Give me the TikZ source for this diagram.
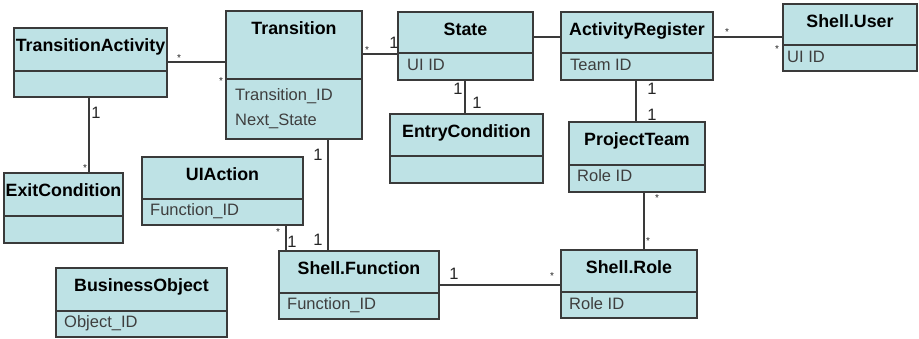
\documentclass[tikz,border=0pt]{standalone}
\usepackage{fontspec}
\setmainfont{Liberation Sans}
\definecolor{classfill}{RGB}{190,226,229}
\definecolor{classline}{RGB}{58,58,58}
\definecolor{attrtext}{RGB}{62,62,62}

\begin{document}
\begin{tikzpicture}[x=1pt,y=-1pt,
  classbox/.style={draw=classline,fill=classfill,line width=1.6pt,anchor=north west,inner sep=0pt,outer sep=0pt},
  classname/.style={anchor=base,font=\fontsize{17.8}{20}\selectfont\bfseries},
  attr/.style={anchor=base west,inner sep=0pt,text=attrtext,font=\fontsize{16.5}{19}\selectfont},
  divider/.style={draw=classline,line width=1.4pt},
  assoc/.style={draw=classline,line width=1.6pt},
  one/.style={inner sep=0pt,text=black!85,font=\fontsize{16.5}{19}\selectfont},
  many/.style={inner sep=0pt,text=black!85,font=\fontsize{10}{12}\selectfont}]
\useasboundingbox (0,0) rectangle (919,339);
% classes
\node[classbox,minimum width=153pt,minimum height=69pt] (ta) at (14,28) {};
\draw[divider] (ta.west |- 0,71) -- (ta.east |- 0,71);
\node[classname] (ta-name) at ([yshift=-24pt]ta.north) {TransitionActivity};
\node[classbox,minimum width=136pt,minimum height=128pt] (tr) at (226,11) {};
\draw[divider] (tr.west |- 0,79) -- (tr.east |- 0,79);
\node[classname] (tr-name) at ([yshift=-24pt]tr.north) {Transition};
\node[attr] (tr-id) at (235,101) {Transition\_ID};
\node[attr] (tr-next) at (235,126) {Next\_State};
\node[classbox,minimum width=135pt,minimum height=68pt] (st) at (398,12) {};
\draw[divider] (st.west |- 0,53) -- (st.east |- 0,53);
\node[classname] (st-name) at ([yshift=-24pt]st.north) {State};
\node[attr] (st-ui) at (407,71) {UI ID};
\node[classbox,minimum width=152pt,minimum height=68pt] (ar) at (561,12) {};
\draw[divider] (ar.west |- 0,53) -- (ar.east |- 0,53);
\node[classname] (ar-name) at ([yshift=-24pt]ar.north) {ActivityRegister};
\node[attr] (ar-team) at (570,71) {Team ID};
\node[classbox,minimum width=134pt,minimum height=67pt] (su) at (783,4) {};
\draw[divider] (su.west |- 0,45) -- (su.east |- 0,45);
\node[classname] (su-name) at ([yshift=-24pt]su.north) {Shell.User};
\node[attr] (su-ui) at (787,63) {UI ID};
\node[classbox,minimum width=153pt,minimum height=69pt] (ec) at (390,114) {};
\draw[divider] (ec.west |- 0,156) -- (ec.east |- 0,156);
\node[classname] (ec-name) at ([yshift=-24pt]ec.north) {EntryCondition};
\node[classbox,minimum width=136pt,minimum height=70pt] (pt) at (569,122) {};
\draw[divider] (pt.west |- 0,165) -- (pt.east |- 0,165);
\node[classname] (pt-name) at ([yshift=-24pt]pt.north) {ProjectTeam};
\node[attr] (pt-role) at (577,182) {Role ID};
\node[classbox,minimum width=161pt,minimum height=68pt] (ua) at (142,157) {};
\draw[divider] (ua.west |- 0,199) -- (ua.east |- 0,199);
\node[classname] (ua-name) at ([yshift=-24pt]ua.north) {UIAction};
\node[attr] (ua-fn) at (150,216) {Function\_ID};
\node[classbox,minimum width=119pt,minimum height=70pt] (xc) at (4,173) {};
\draw[divider] (xc.west |- 0,216) -- (xc.east |- 0,216);
\node[classname] (xc-name) at ([yshift=-24pt]xc.north) {ExitCondition};
\node[classbox,minimum width=171pt,minimum height=69pt] (bo) at (56,268) {};
\draw[divider] (bo.west |- 0,311) -- (bo.east |- 0,311);
\node[classname] (bo-name) at ([yshift=-24pt]bo.north) {BusinessObject};
\node[attr] (bo-id) at (64,327) {Object\_ID};
\node[classbox,minimum width=160pt,minimum height=68pt] (sf) at (279,251) {};
\draw[divider] (sf.west |- 0,293) -- (sf.east |- 0,293);
\node[classname] (sf-name) at ([yshift=-24pt]sf.north) {Shell.Function};
\node[attr] (sf-fn) at (287,309) {Function\_ID};
\node[classbox,minimum width=136pt,minimum height=68pt] (sr) at (561,250) {};
\draw[divider] (sr.west |- 0,292) -- (sr.east |- 0,292);
\node[classname] (sr-name) at ([yshift=-24pt]sr.north) {Shell.Role};
\node[attr] (sr-role) at (569,309) {Role ID};
% associations
\draw[assoc] (ta.east |- 0,62) -- (tr.west |- 0,62);
\draw[assoc] (tr.east |- 0,54) -- (st.west |- 0,54);
\draw[assoc] (st.east |- 0,37) -- (ar.west |- 0,37);
\draw[assoc] (ar.east |- 0,37) -- (su.west |- 0,37);
\draw[assoc] (st.south -| 465,0) -- (ec.north -| 465,0);
\draw[assoc] (ar.south -| 636,0) -- (pt.north -| 636,0);
\draw[assoc] (pt.south -| 644,0) -- (sr.north -| 644,0);
\draw[assoc] (sf.east |- 0,285) -- (sr.west |- 0,285);
\draw[assoc] (tr.south -| 328,0) -- (sf.north -| 328,0);
\draw[assoc] (ua.south -| 286,0) -- (sf.north -| 286,0);
\draw[assoc] (ta.south -| 89,0) -- (xc.north -| 89,0);
% multiplicities
\node[many] (m-ta1) at (179,58) {*};
\node[many] (m-ta2) at (221,81) {*};
\node[many] (m-tr1) at (367,50) {*};
\node[one] (m-st1) at (394,43) {1};
\node[one] (m-st2) at (458,89) {1};
\node[one] (m-ec1) at (477,103) {1};
\node[one] (m-ar1) at (652,89) {1};
\node[one] (m-pt1) at (652,115) {1};
\node[many] (m-ar2) at (727,32) {*};
\node[many] (m-su1) at (777,49) {*};
\node[many] (m-pt2) at (657,198) {*};
\node[many] (m-sr1) at (648,241) {*};
\node[one] (m-sf1) at (454,274) {1};
\node[many] (m-sr2) at (552,276) {*};
\node[one] (m-tr2) at (318,155) {1};
\node[one] (m-sf2) at (318,240) {1};
\node[many] (m-ua1) at (278,232) {*};
\node[one] (m-sf3) at (292,242) {1};
\node[one] (m-ta3) at (96,113) {1};
\node[many] (m-xc1) at (85,168) {*};
\end{tikzpicture}
\end{document}
